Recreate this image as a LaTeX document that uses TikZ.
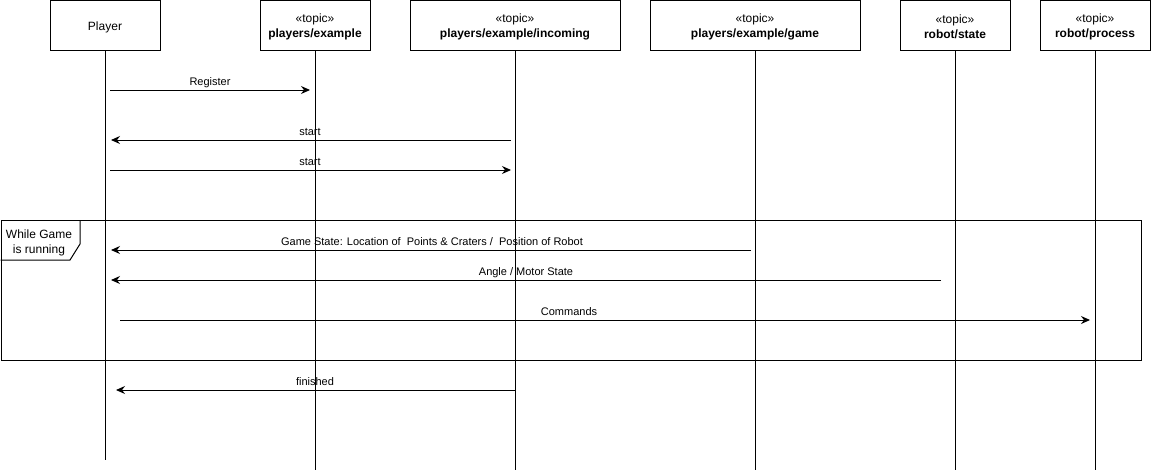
\documentclass[tikz,border=0pt]{standalone}
\usepackage{fontspec}
\setmainfont{Liberation Sans}
\usetikzlibrary{arrows.meta}
\begin{document}
\begin{tikzpicture}[x=1pt,y=-1pt,line width=1pt,
  head/.style={draw,fill=white,minimum width=110pt,minimum height=50pt,inner sep=0pt,align=center,font=\fontsize{12}{15}\selectfont},
  htext/.style={align=center,inner sep=0pt,font=\fontsize{12}{15}\selectfont},
  life/.style={draw,line width=1pt},
  msg/.style={draw,-{Stealth[length=9pt,width=8pt,inset=3pt]}},
  lbl/.style={anchor=base,inner sep=0pt,font=\fontsize{11}{13}\selectfont}]
\useasboundingbox (0,0) rectangle (1151,472);
% headers
\node[head] (p) at (105,25) {};
\node[head] (pe) at (315,25) {};
\node[head,minimum width=210pt] (pi) at (515,25) {};
\node[head,minimum width=210pt] (pg) at (755,25) {};
\node[head] (rs) at (955,25) {};
\node[head] (rp) at (1095,25) {};
\node[htext] (pt) at (105,27) {Player};
\node[htext] (pet) at (315,27) {«topic»\\\textbf{players/example}};
\node[htext] (pit) at (515,27) {«topic»\\\textbf{players/example/incoming}};
\node[htext] (pgt) at (755,27) {«topic»\\\textbf{players/example/game}};
\node[htext] (rst) at (955,27) {«topic»\\\textbf{robot/state}};
\node[htext] (rpt) at (1095,27) {«topic»\\\textbf{robot/process}};
% lifeline ends
\coordinate (pE) at (105,460);
\coordinate (peE) at (315,470);
\coordinate (piE) at (515,470);
\coordinate (pgE) at (755,470);
\coordinate (rsE) at (955,470);
\coordinate (rpE) at (1095,470);
\draw[life] (p.south) -- (pE);
\draw[life] (pe.south) -- (peE);
\draw[life] (pi.south) -- (piE);
\draw[life] (pg.south) -- (pgE);
\draw[life] (rs.south) -- (rsE);
\draw[life] (rp.south) -- (rpE);
% loop frame
\node[draw,minimum width=1140pt,minimum height=140pt,inner sep=0pt,anchor=north west] (loop) at (0.5,220) {};
\coordinate (lA) at (80,220);
\coordinate (lB) at (80,244);
\coordinate (lC) at (70,260);
\coordinate (lD) at (0.5,260);
\draw (lA) -- (lB) -- (lC) -- (lD);
\node[htext] (looplbl) at (39,243) {While Game\\is running};
% message endpoints
\coordinate (m1a) at (110,90);  \coordinate (m1b) at (310,90);
\coordinate (m2a) at (511,140); \coordinate (m2b) at (111,140);
\coordinate (m3a) at (110,170); \coordinate (m3b) at (511,170);
\coordinate (m4a) at (751,250); \coordinate (m4b) at (111,250);
\coordinate (m5a) at (941,280); \coordinate (m5b) at (111,280);
\coordinate (m6a) at (120,320); \coordinate (m6b) at (1090,320);
\coordinate (m7a) at (515,390); \coordinate (m7b) at (116,390);
\draw[msg] (m1a) -- (m1b);
\draw[msg] (m2a) -- (m2b);
\draw[msg] (m3a) -- (m3b);
\draw[msg] (m4a) -- (m4b);
\draw[msg] (m5a) -- (m5b);
\draw[msg] (m6a) -- (m6b);
\draw[msg] (m7a) -- (m7b);
\node[lbl] (l1) at (210,85) {Register};
\node[lbl] (l2) at (310,135) {start};
\node[lbl] (l3) at (310,165) {start};
\node[lbl] (l4) at (432,245) {Game State: Location of\ \ Points \& Craters /\ \ Position of Robot};
\node[lbl] (l5) at (526,275) {Angle / Motor State};
\node[lbl] (l6) at (569,315) {Commands};
\node[lbl] (l7) at (315,385) {finished};
\end{tikzpicture}
\end{document}
